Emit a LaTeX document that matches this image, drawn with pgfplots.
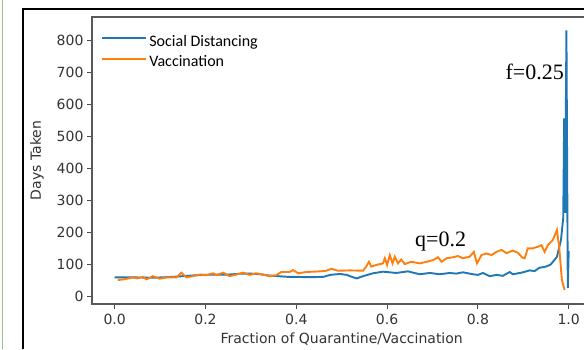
\documentclass[border=0pt]{standalone}
\usepackage{pgfplots}
\pgfplotsset{compat=1.18}
\usepackage{fontspec}
\setmainfont{DejaVu Sans}
\newfontfamily\carlito{Carlito}
\newfontfamily\timesf{Liberation Serif}
\definecolor{mplblue}{HTML}{1F77B4}
\definecolor{mplorange}{HTML}{FF7F0E}
\definecolor{framegreen}{RGB}{150,195,130}
\begin{document}
\begin{tikzpicture}[x=1pt,y=1pt]
\path[use as bounding box] (0,0) rectangle (584,349);
\clip (0,0) rectangle (584,349);
\fill[white] (0,0) rectangle (584,349);
% outer frame
\draw[framegreen, line width=1.8pt] (2.5,0) -- (2.5,349);
\draw[black, line width=2.6pt] (23,0) -- (23,340) -- (590,340);
\begin{axis}[
  at={(92pt,45pt)}, anchor=south west,
  scale only axis, width=499.4pt, height=287pt,
  xmin=-0.05, xmax=1.05, ymin=-25, ymax=872,
  xtick={0,0.2,0.4,0.6,0.8,1.0},
  ytick={0,100,200,300,400,500,600,700,800},
  xticklabel style={yshift=-2pt, /pgf/number format/fixed, /pgf/number format/fixed zerofill, /pgf/number format/precision=1},
  /pgf/number format/assume math mode=true,
  tick align=outside, major tick length=5pt,
  tick style={black!70, line width=0.9pt},
  axis line style={black!65, line width=1.1pt},
  tick label style={font=\fontsize{14}{16}\selectfont, text=black!80},
  xtick pos=bottom, ytick pos=left,
  xlabel={Fraction of Quarantine/Vaccination},
  ylabel={Days Taken},
  label style={font=\fontsize{14}{16}\selectfont, text=black!80},
  xlabel style={yshift=-1pt},
  ylabel style={at={(axis description cs:-0.11,0.5)}, anchor=center},
  legend cell align=left,
  legend style={draw=none, fill=none, at={(axis description cs:0.012,0.952)}, anchor=north west,
    font=\carlito\fontsize{16}{18}\selectfont, row sep=4pt,
    /tikz/every even column/.append style={column sep=6pt}},
  legend image code/.code={\draw[#1, line width=2.2pt] (0pt,3pt) -- (44pt,3pt);},
]
\addplot[mplblue, line width=1.9pt] coordinates {
(0.0,58) (0.02,58) (0.05,58) (0.08,57) (0.10,58) (0.13,60) (0.16,63) (0.19,66)
(0.22,67) (0.25,67) (0.28,70) (0.30,70) (0.32,68) (0.34,64) (0.36,62) (0.38,60)
(0.40,60) (0.42,59) (0.44,59) (0.46,60) (0.475,66) (0.496,69) (0.511,66) (0.522,60)
(0.533,55) (0.547,62) (0.569,71) (0.591,76) (0.606,74) (0.620,72) (0.646,77) (0.660,72)
(0.672,68) (0.694,72) (0.716,68) (0.738,72) (0.752,70) (0.767,74) (0.789,68) (0.80,66)
(0.811,72) (0.826,62) (0.841,66) (0.855,63) (0.870,75) (0.877,68) (0.885,70) (0.899,74)
(0.914,80) (0.925,78) (0.935,88) (0.95,92) (0.96,98) (0.974,122) (0.983,175) (0.988,245)
(0.990,555) (0.992,260) (0.995,830) (0.998,25) (1.0,140)
};
\addlegendentry{Social Distancing}
\addplot[mplorange, line width=1.9pt] coordinates {
(0.007,50) (0.02,52) (0.04,58) (0.05,55) (0.062,60) (0.070,52) (0.084,62) (0.099,54)
(0.114,58) (0.136,58) (0.147,73) (0.158,58) (0.172,62) (0.187,67) (0.202,65) (0.217,71)
(0.224,65) (0.239,73) (0.253,62) (0.268,67) (0.283,73) (0.297,66) (0.312,71) (0.327,67)
(0.341,62) (0.356,65) (0.367,75) (0.385,75) (0.393,81) (0.404,71) (0.422,75) (0.452,77)
(0.466,79) (0.477,85) (0.492,79) (0.518,80) (0.547,79) (0.554,92) (0.560,107) (0.565,92)
(0.576,97) (0.591,102) (0.595,118) (0.600,97) (0.606,128) (0.612,102) (0.617,123) (0.624,102)
(0.631,114) (0.639,100) (0.653,107) (0.672,102) (0.687,107) (0.701,112) (0.712,121) (0.720,107)
(0.731,118) (0.745,121) (0.756,125) (0.767,118) (0.782,123) (0.791,138) (0.798,102) (0.808,128)
(0.819,133) (0.830,128) (0.841,138) (0.852,144) (0.863,134) (0.877,142) (0.888,135) (0.898,120)
(0.903,118) (0.910,149) (0.921,149) (0.932,154) (0.940,159) (0.947,138) (0.954,159) (0.965,175)
(0.974,206) (0.979,154) (0.982,102) (0.985,50) (0.991,19)
};
\addlegendentry{Vaccination}
\node[font=\timesf\fontsize{22}{24}\selectfont, inner sep=0pt] at (axis cs:0.925,700) {f=0.25};
\node[font=\timesf\fontsize{22}{24}\selectfont, inner sep=0pt] at (axis cs:0.718,169) {q=0.2};
\end{axis}
\end{tikzpicture}
\end{document}
